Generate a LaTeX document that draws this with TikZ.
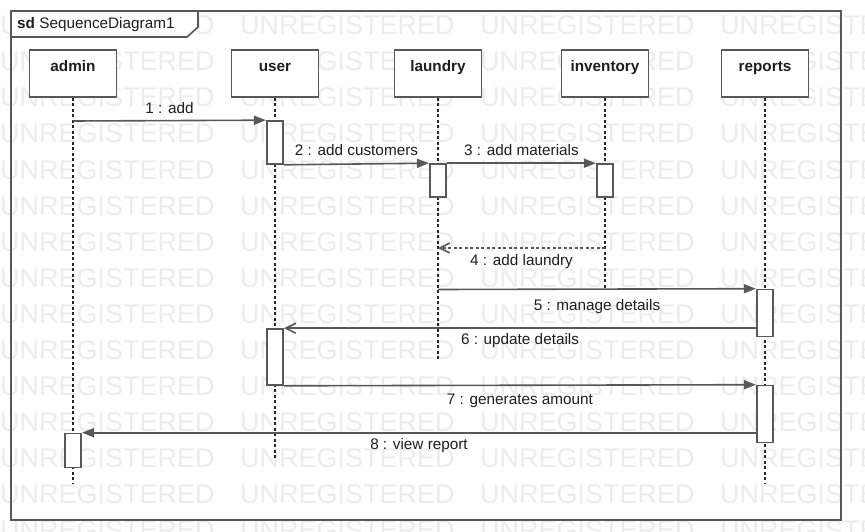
\documentclass[tikz,border=0pt]{standalone}
\usepackage{fontspec}
\setmainfont{Liberation Sans}
\usetikzlibrary{arrows.meta}
\definecolor{umlline}{RGB}{88,88,88}
\definecolor{umltext}{RGB}{30,30,30}
\definecolor{umlmark}{RGB}{236,236,236}

\begin{document}
\begin{tikzpicture}[x = 1pt, y = -1pt,
    every node/.style = {font = \fontsize{15.3}{18}\selectfont, text = umltext},
    head/.style = {shape = rectangle, draw = umlline, fill = white, line width = 1.6pt, minimum width = 87pt, inner xsep = 0pt, inner ysep = 5pt, text height = 16.5pt, text depth = 20.5pt, anchor = north, font = \fontsize{15.3}{18}\selectfont\bfseries},
    act/.style = {shape = rectangle, draw = umlline, fill = white, line width = 1.6pt, minimum width = 16.5pt, inner sep = 0pt},
    frame/.style = {draw = umlline, line width = 1.6pt},
    life/.style = {draw = black!85, line width = 1.1pt, dash pattern = on 3pt off 2.5pt},
    call/.style = {draw = umlline, line width = 1.6pt, -{Triangle[length = 12pt, width = 9pt]}},
    back/.style = {draw = umlline, line width = 1.6pt, -{Straight Barb[length = 10pt, width = 10pt]}},
    reply/.style = {back, dash pattern = on 3pt off 2.5pt},
    msg/.style = {inner sep = 0pt, text height = 11pt, text depth = 0pt},
    wmark/.style = {anchor = base west, inner sep = 0pt, text = umlmark, font = \fontsize{27}{30}\selectfont}]
    \useasboundingbox (0,0) rectangle (865,532);
    \clip (0,0) rectangle (865,532);
    \foreach \wy in {0,...,14}
        \foreach \wx in {0,...,3}
            \node[wmark] (w\wy-\wx) at (240*\wx, 35 + 36*\wy) {UNREGISTERED};
    \draw[frame] (11,11) rectangle (841,520);
    \draw[frame, fill = white] (11,11) -- (198,11) -- (198,27) -- (187,37) -- (11,37) -- cycle;
    \node[anchor = base west, inner sep = 0pt] (sd) at (17,28.5) {\textbf{sd} SequenceDiagram1};
    \node[head] (admin) at (73,49) {admin};
    \node[head] (user) at (275,49) {user};
    \node[head] (laundry) at (438,49) {laundry};
    \node[head] (inventory) at (605,49) {inventory};
    \node[head] (reports) at (765,49) {reports};
    \coordinate (admin end) at (73,483);
    \coordinate (user end) at (275,460);
    \coordinate (laundry end) at (438,359);
    \coordinate (inventory end) at (605,289.5);
    \coordinate (reports end) at (765,483);
    \draw[life] (admin) -- (admin end);
    \draw[life] (user) -- (user end);
    \draw[life] (laundry) -- (laundry end);
    \draw[life] (inventory) -- (inventory end);
    \draw[life] (reports) -- (reports end);
    \node[act, minimum height = 43pt] (user1) at (275,142.5) {};
    \node[act, minimum height = 33pt] (laundry1) at (438,180.5) {};
    \node[act, minimum height = 33pt] (inventory1) at (605,180.5) {};
    \node[act, minimum height = 47pt] (reports1) at (765,313) {};
    \node[act, minimum height = 56pt] (user2) at (275,357) {};
    \node[act, minimum height = 57pt] (reports2) at (765,414) {};
    \node[act, minimum height = 34pt] (admin1) at (73,450.5) {};
    \coordinate (m1) at (73,121);
    \coordinate (m4 from) at (605,248);
    \coordinate (m4 to) at (438,248);
    \coordinate (m5) at (438,289.5);
    \draw[call] (m1) -- node[msg, above = 6.5pt] {1 : add} (user1.north west);
    \draw[call] (user1.south east) -- node[msg, above = 7.3pt] {2 : add customers} (laundry1.north west);
    \draw[call] (laundry1.north east) -- node[msg, above = 7.3pt] {3 : add materials} (inventory1.north west);
    \draw[reply] (m4 from) -- node[msg, below = 5.6pt] {4 : add laundry} (m4 to);
    \draw[call] (m5) -- node[msg, below = 10pt] {5 : manage details} (reports1.north west);
    \draw[back] (reports1.west |- user2.north) -- node[msg, below = 4.3pt] {6 : update details} (user2.north east);
    \draw[call] (user2.south east) -- node[msg, below = 7.6pt] {7 : generates amount} (reports2.north west);
    \draw[call] (reports2.west |- admin1.north) -- node[msg, below = 5pt] {8 : view report} (admin1.north east);
\end{tikzpicture}
\end{document}
